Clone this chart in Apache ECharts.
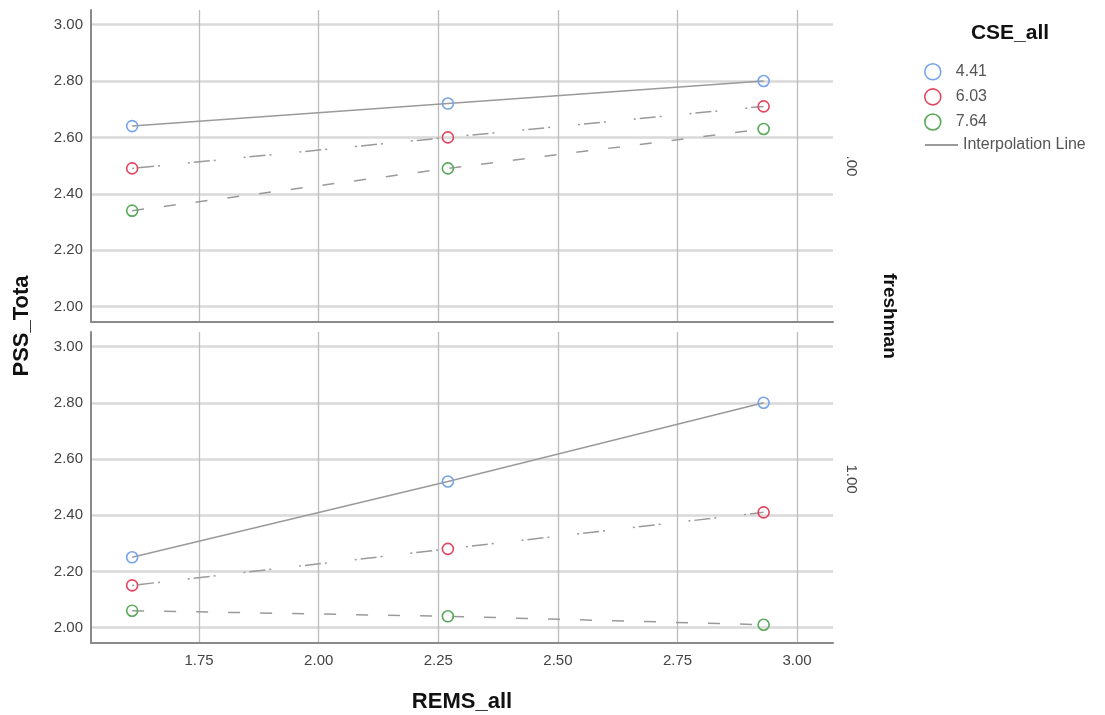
<!DOCTYPE html>
<html>
<head>
<meta charset="utf-8">
<style>
  html, body { margin: 0; padding: 0; background: #fff; }
  #chart { width: 1105px; height: 715px; }
</style>
<script src="https://cdn.jsdelivr.net/npm/echarts@6/dist/echarts.min.js"></script>
</head>
<body>
<div id="chart"></div>
<script>
// REMS_all 取值 (三个点)
var remsValues = [1.61, 2.27, 2.93];
// CSE_all 分组
var cseLevels = ['4.41', '6.03', '7.64'];
// freshman = .00
var pssFresh0 = {
  '4.41': [2.64, 2.72, 2.80],
  '6.03': [2.49, 2.60, 2.71],
  '7.64': [2.34, 2.49, 2.63]
};
// freshman = 1.00
var pssFresh1 = {
  '4.41': [2.25, 2.52, 2.80],
  '6.03': [2.15, 2.28, 2.41],
  '7.64': [2.06, 2.04, 2.01]
};
var panelLabels = ['.00', '1.00'];

var markerColors = { '4.41': '#76a4e8', '6.03': '#e2465f', '7.64': '#58a95a' };
var lineTypes = { '4.41': 'solid', '6.03': [2, 4, 16, 4, 2, 28], '7.64': [12, 20] };

var fontFamily = '"Liberation Sans", Arial, sans-serif';
var lineGray = '#9a9a9a';

var chart = echarts.init(document.getElementById('chart'));

function makeX(idx, showLabel) {
  return {
    type: 'value', gridIndex: idx,
    min: 1.524, max: 3.075, minInterval: 0.25, maxInterval: 0.25,
    axisLine: { show: true, lineStyle: { color: '#8a8a8a', width: 2 } },
    axisTick: { show: false },
    axisLabel: {
      show: showLabel, showMinLabel: false, showMaxLabel: false, margin: 10,
      color: '#444', fontSize: 15, fontFamily: fontFamily,
      formatter: function (v) { return v.toFixed(2); }
    },
    splitLine: { show: true, showMinLine: false, showMaxLine: false, lineStyle: { color: '#bcbcbc', width: 1.3 } },
    name: showLabel ? 'REMS_all' : '',
    nameLocation: 'middle', nameGap: 48,
    nameTextStyle: { fontSize: 22, fontWeight: 'bold', color: '#111', fontFamily: fontFamily }
  };
}

function makeY(idx) {
  return {
    type: 'value', gridIndex: idx,
    min: 1.945, max: 3.052, minInterval: 0.2, maxInterval: 0.2,
    axisLine: { show: true, lineStyle: { color: '#8a8a8a', width: 2 } },
    axisTick: { show: false },
    axisLabel: {
      showMinLabel: false, showMaxLabel: false, margin: 8,
      color: '#444', fontSize: 15, fontFamily: fontFamily,
      formatter: function (v) { return v.toFixed(2); }
    },
    splitLine: { show: true, showMinLine: false, showMaxLine: false, lineStyle: { color: '#d9d9d9', width: 2.5 } }
  };
}

var series = [];
[pssFresh0, pssFresh1].forEach(function (panel, p) {
  cseLevels.forEach(function (lvl) {
    series.push({
      name: lvl, type: 'line', xAxisIndex: p, yAxisIndex: p,
      data: remsValues.map(function (x, i) { return [x, panel[lvl][i]]; }),
      symbol: 'circle', symbolSize: 11,
      itemStyle: { color: 'rgba(255,255,255,0)', borderColor: markerColors[lvl], borderWidth: 1.6 },
      lineStyle: { color: lineGray, width: 1.5, type: lineTypes[lvl] },
      emphasis: { disabled: true },
      z: 3
    });
  });
});
series.push({ name: 'Interpolation Line', type: 'line', data: [], lineStyle: { color: lineGray } });

var option = {
  animation: false,
  backgroundColor: '#fff',
  grid: [
    { left: 91, top: 10, width: 742, height: 312 },
    { left: 91, top: 332, width: 742, height: 311 }
  ],
  xAxis: [makeX(0, false), makeX(1, true)],
  yAxis: [makeY(0), makeY(1)],
  legend: [
    {
      orient: 'vertical', left: 919, top: 58, itemWidth: 36, itemHeight: 16, itemGap: 7.5,
      selectedMode: false,
      textStyle: { fontSize: 16, color: '#555', fontFamily: fontFamily },
      data: cseLevels.map(function (lvl) {
        return { name: lvl, icon: 'circle', itemStyle: { color: 'rgba(255,255,255,0)', borderColor: markerColors[lvl], borderWidth: 1.6 } };
      })
    },
    {
      orient: 'vertical', left: 920, top: 132, itemWidth: 33, itemHeight: 2,
      selectedMode: false,
      textStyle: { fontSize: 16, color: '#555', fontFamily: fontFamily },
      data: [{ name: 'Interpolation Line', icon: 'rect', itemStyle: { color: lineGray } }]
    }
  ],
  graphic: [
    { type: 'text', x: 1010, y: 33, style: { text: 'CSE_all', align: 'center', verticalAlign: 'middle', fontSize: 21, fontWeight: 'bold', fill: '#111', fontFamily: fontFamily } },
    { type: 'text', x: 22, y: 326, rotation: Math.PI / 2, style: { text: 'PSS_Tota', align: 'center', verticalAlign: 'middle', fontSize: 22, fontWeight: 'bold', fill: '#111', fontFamily: fontFamily } },
    { type: 'text', x: 889, y: 316, rotation: -Math.PI / 2, style: { text: 'freshman', align: 'center', verticalAlign: 'middle', fontSize: 19, fontWeight: 'bold', fill: '#111', fontFamily: fontFamily } },
    { type: 'text', x: 851, y: 166, rotation: -Math.PI / 2, style: { text: panelLabels[0], align: 'center', verticalAlign: 'middle', fontSize: 15, fill: '#444', fontFamily: fontFamily } },
    { type: 'text', x: 851, y: 479, rotation: -Math.PI / 2, style: { text: panelLabels[1], align: 'center', verticalAlign: 'middle', fontSize: 15, fill: '#444', fontFamily: fontFamily } }
  ],
  series: series
};

chart.setOption(option);
</script>
</body>
</html>
